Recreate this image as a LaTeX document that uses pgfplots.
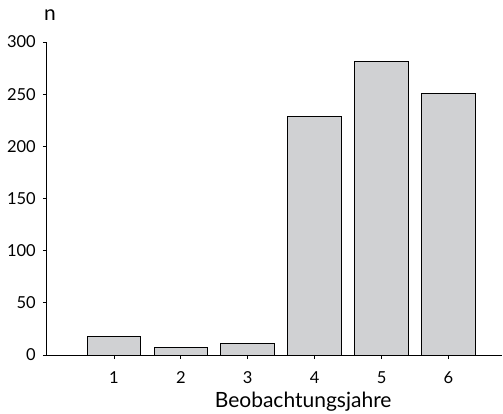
\documentclass[border=0pt]{standalone}
\usepackage{fontspec}
\setmainfont{Lato}
\usepackage{pgfplots}
\pgfplotsset{compat=1.18}
\definecolor{barfill}{RGB}{208,209,211}
\begin{document}
\begin{tikzpicture}
\begin{axis}[
  at={(0,0)}, anchor=south west,
  scale only axis,
  width=455pt, height=313pt,
  xmin=0, xmax=6.8,
  ymin=0, ymax=300,
  axis x line*=bottom,
  axis y line*=left,
  axis line style={line width=1pt, -},
  xtick={1,2,3,4,5,6},
  ytick={0,50,100,150,200,250,300},
  tick align=outside,
  major tick length=4pt,
  tick style={line width=0.8pt, black},
  /pgf/number format/assume math mode=true,
  ticklabel style={font=\fontsize{16.5}{19}\selectfont, inner sep=0pt},
  xticklabel style={anchor=base, yshift=-24pt},
  yticklabel style={anchor=east, xshift=-7pt},
  xlabel={Beobachtungsjahre},
  xlabel style={font=\fontsize{21}{24}\selectfont, at={(axis description cs:0.563,0)}, anchor=base, yshift=-52pt, inner sep=0pt},
  ylabel={n},
  ylabel style={rotate=-90, at={(axis description cs:0.0066,1)}, anchor=base, yshift=22pt, inner sep=0pt, font=\fontsize{21}{24}\selectfont},
  ybar, bar width=0.8,
]
\addplot[fill=barfill, draw=black, line width=1pt] coordinates {
(1,18) (2,7) (3,11) (4,229) (5,281) (6,251)
};
\end{axis}
\pgfresetboundingbox
\path (-47pt,-58pt) rectangle (456pt,355pt);
\end{tikzpicture}
\end{document}
